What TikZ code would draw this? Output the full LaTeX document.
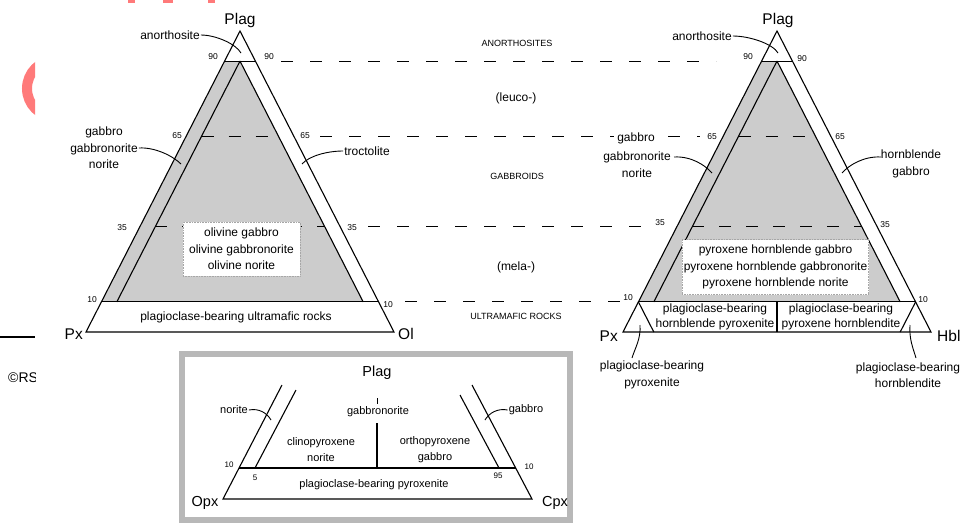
\documentclass[tikz,border=0pt]{standalone}
\usepackage{fontspec}
\setmainfont{Liberation Sans}
\usetikzlibrary{calc}
\definecolor{stamp}{RGB}{255,122,122}
\tikzset{
  edge/.style={line width=1.1pt},
  guide/.style={line width=1.1pt, dash pattern=on 12pt off 17pt},
  inguide/.style={line width=1.1pt, dash pattern=on 12pt off 15pt},
  leader/.style={line width=0.9pt},
  shade/.style={fill=black!20},
  lbl/.style={font=\fontsize{12}{16.5}\selectfont, align=center, inner sep=1pt},
  smlbl/.style={font=\fontsize{11}{16}\selectfont, align=center, inner sep=1pt},
  num/.style={font=\fontsize{8.5}{9}\selectfont, inner sep=0pt},
  corner/.style={font=\fontsize{15.5}{16}\selectfont, inner sep=0pt},
  caps/.style={font=\fontsize{9}{10}\selectfont, inner sep=1pt},
  fieldbox/.style={lbl, fill=white, draw=black!35, densely dotted, line width=0.6pt},
}
% barycentric construction points of a Plag triangle (apex A, base L--R)
\newcommand\mktern[1]{%
  \foreach \tp/\tn in {0.9/90,0.65/65,0.35/35,0.1/10}{%
    \pgfmathsetmacro\qa{1-\tp}%
    \pgfmathsetmacro\qb{0.95-\tp}%
    \coordinate (#1-l\tn) at ($\tp*(#1-A)+\qa*(#1-L)$);
    \coordinate (#1-r\tn) at ($\tp*(#1-A)+\qa*(#1-R)$);
    \coordinate (#1-il\tn) at ($\tp*(#1-A)+\qb*(#1-L)+0.05*(#1-R)$);
    \coordinate (#1-ir\tn) at ($\tp*(#1-A)+0.05*(#1-L)+\qb*(#1-R)$);
  }}
\begin{document}
\begin{tikzpicture}[x=1pt,y=-1pt]
\useasboundingbox (0,0) rectangle (961,525);

% fragments at the left margin
\begin{scope}
  \clip (0,0) rectangle (35,525);
  \draw[stamp, line width=10pt] (55.5,88.5) circle[radius=28.5];
  \node[font=\fontsize{14}{15}\selectfont, anchor=west, inner sep=0pt] (copy) at (8,378) {©RS};
\end{scope}
\coordinate (rule0) at (0,337);
\coordinate (rule1) at (35,337);
\draw[line width=1.3pt] (rule0) -- (rule1);
\fill[stamp] (128,0) rectangle (135,2.5);
\fill[stamp] (163,0) rectangle (173,2.5);
\fill[stamp] (208,0) rectangle (215,2.5);

% ---------- Plag - Px - Ol ----------
\coordinate (L-A) at (240,31);
\coordinate (L-L) at (86,332);
\coordinate (L-R) at (394,332);
\mktern{L}
\fill[shade] (L-l90) -- (L-il90) -- (L-ir10) -- (L-l10) -- cycle;
\draw[edge] (L-A) -- (L-L) -- (L-R) -- cycle;
\draw[edge] (L-l90) -- (L-r90);
\draw[edge] (L-l10) -- (L-r10);
\draw[edge] (L-il90) -- (L-il10);
\draw[edge] (L-ir90) -- (L-ir10);
\draw[inguide] (L-il65) -- (L-ir65);
\draw[inguide] (L-il35) -- (L-ir35);
\node[fieldbox, minimum width=117pt, minimum height=54pt] (olbox) at (241.5,249)
  {olivine gabbro\\olivine gabbronorite\\olivine norite};
\node[lbl] (pbur) at (236,317) {plagioclase-bearing ultramafic rocks};

\node[corner] (plagL) at (240,20) {Plag};
\node[corner, anchor=east] (pxL) at (83,334) {Px};
\node[corner, anchor=west] (olL) at (398,334) {Ol};

\node[num] (nL90a) at (213,57) {90};
\node[num] (nL90b) at (269,57) {90};
\node[num] (nL65a) at (177,136) {65};
\node[num] (nL65b) at (305,136) {65};
\node[num] (nL35a) at (122,228) {35};
\node[num] (nL35b) at (352,228) {35};
\node[num] (nL10a) at (92,300) {10};
\node[num] (nL10b) at (388,305) {10};

\node[lbl] (anoL) at (170,35) {anorthosite};
\coordinate (anoLend) at (241,53);
\draw[leader] (anoL.east) .. controls +(15,0) and +(-5,-9) .. (anoLend);
\node[lbl] (gabL) at (104,148) {gabbro\\gabbronorite\\norite};
\coordinate (gabLend) at (181,164);
\draw[leader] (gabL.east) .. controls +(16,-1) and +(-8,-8) .. (gabLend);
\node[lbl] (troL) at (367,151) {troctolite};
\coordinate (troLend) at (302,164);
\draw[leader] (troL.west) .. controls +(-16,0) and +(7,-8) .. (troLend);

% ---------- dashed links between the triangles ----------
\coordinate (g90a) at (281,61.1);   \coordinate (g90b) at (716,61.1);
\coordinate (g65a) at (320,136.35); \coordinate (g65b) at (700,136.35);
\coordinate (g35a) at (368,226.65); \coordinate (g35b) at (641,226.65);
\coordinate (g10a) at (405,301.9);  \coordinate (g10b) at (620,301.9);
\draw[guide] (g90a) -- (g90b);
\draw[guide] (g65a) -- (g65b);
\draw[guide] (g35a) -- (g35b);
\draw[guide] (g10a) -- (g10b);

\node[caps] (anos) at (517,43) {ANORTHOSITES};
\node[lbl] (leuco) at (516,98) {(leuco-)};
\node[caps] (gabs) at (517,176) {GABBROIDS};
\node[lbl] (mela) at (516,267) {(mela-)};
\node[caps] (ultra) at (516,316) {ULTRAMAFIC ROCKS};

% ---------- Plag - Px - Hbl ----------
\coordinate (R-A) at (777,31);
\coordinate (R-L) at (623,332);
\coordinate (R-R) at (931,332);
\mktern{R}
\coordinate (R-bl) at ($0.9*(R-L)+0.1*(R-R)$);
\coordinate (R-br) at ($0.1*(R-L)+0.9*(R-R)$);
\coordinate (R-bm) at ($0.5*(R-L)+0.5*(R-R)$);
\coordinate (R-m10) at ($0.1*(R-A)+0.45*(R-L)+0.45*(R-R)$);
\fill[shade] (R-l90) -- (R-il90) -- (R-ir10) -- (R-l10) -- cycle;
\draw[edge] (R-A) -- (R-L) -- (R-R) -- cycle;
\draw[edge] (R-l90) -- (R-r90);
\draw[edge] (R-l10) -- (R-r10);
\draw[edge] (R-il90) -- (R-il10);
\draw[edge] (R-ir90) -- (R-ir10);
\draw[edge] (R-m10) -- (R-bm);
\draw[edge] (R-l10) -- (R-bl);
\draw[edge] (R-r10) -- (R-br);
\draw[inguide] (R-il65) -- (R-ir65);
\draw[inguide] (R-il35) -- (R-ir35);
\node[fieldbox, inner xsep=1.5pt, minimum height=55pt] (hbbox) at (775.5,267)
  {pyroxene hornblende gabbro\\pyroxene hornblende gabbronorite\\pyroxene hornblende norite};
\node[lbl, font=\fontsize{12}{15.5}\selectfont] (pbhp) at (715,317) {plagioclase-bearing\\hornblende pyroxenite};
\node[lbl, font=\fontsize{12}{15.5}\selectfont] (pbph) at (841,317) {plagioclase-bearing\\pyroxene hornblendite};

\node[corner] (plagR) at (778,20) {Plag};
\node[corner, anchor=east] (pxR) at (618,336) {Px};
\node[corner, anchor=west] (hblR) at (937,336) {Hbl};

\node[num] (nR90a) at (748,57) {90};
\node[num] (nR90b) at (802,59) {90};
\node[num] (nR65a) at (712,137) {65};
\node[num] (nR65b) at (840,137) {65};
\node[num] (nR35a) at (660,223) {35};
\node[num] (nR35b) at (885,225) {35};
\node[num] (nR10a) at (628,298) {10};
\node[num] (nR10b) at (923,300) {10};

\node[lbl] (anoR) at (702,36) {anorthosite};
\coordinate (anoRend) at (778,53);
\draw[leader] (anoR.east) .. controls +(17,0) and +(-5,-9) .. (anoRend);
\node[lbl, fill=white, inner xsep=3pt] (gabR) at (636,138) {gabbro};
\node[lbl] (gnR) at (637,164.5) {gabbronorite\\norite};
\coordinate (gnRstart) at (674,157);
\coordinate (gnRend) at (712,173);
\draw[leader] (gnRstart) .. controls +(17,-1) and +(-7,-8) .. (gnRend);
\node[lbl] (hgR) at (911,164) {hornblende\\gabbro};
\coordinate (hgRstart) at (881,157);
\coordinate (hgRend) at (842,173);
\draw[leader] (hgRstart) .. controls +(-17,-1) and +(7,-8) .. (hgRend);

\node[lbl] (pbpx) at (652,375) {plagioclase-bearing\\pyroxenite};
\coordinate (pbpxtop) at (640,325);
\coordinate (pbpxend) at (632,358);
\draw[leader] (pbpxtop) .. controls +(1,14) and +(3,-10) .. (pbpxend);
\node[lbl] (pbhb) at (908,375) {plagioclase-bearing\\hornblendite};
\coordinate (pbhbtop) at (910,325);
\coordinate (pbhbend) at (916,358);
\draw[leader] (pbhbtop) .. controls +(-1,14) and +(-3,-10) .. (pbhbend);

% ---------- Plag - Opx - Cpx (inset) ----------
\draw[line width=6pt, draw=black!28] (182,354) rectangle (570,520);
\coordinate (I-O) at (223,499);
\coordinate (I-C) at (532,499);
\coordinate (I-lt) at (282,385);
\coordinate (I-rt) at (472,385);
\coordinate (I-l10) at (238.5,468);
\coordinate (I-r10) at (516,468);
\coordinate (I-ilt) at (296,390);
\coordinate (I-il10) at (255,468);
\coordinate (I-irt) at (460,395);
\coordinate (I-ir10) at (499,468);
\coordinate (I-mt) at (377,423);
\coordinate (I-m10) at (377,468);
\coordinate (I-tick0) at (377,398);
\coordinate (I-tick1) at (377,404);
\draw[edge] (I-lt) -- (I-O) -- (I-C) -- (I-rt);
\draw[edge] (I-l10) -- (I-r10);
\draw[edge] (I-ilt) -- (I-il10);
\draw[edge] (I-irt) -- (I-ir10);
\draw[edge] (I-mt) -- (I-m10);
\draw[line width=0.8pt] (I-tick0) -- (I-tick1);

\node[font=\fontsize{14.5}{15}\selectfont, inner sep=0pt] (plagI) at (377,373) {Plag};
\node[smlbl] (gnI) at (378,412) {gabbronorite};
\node[smlbl] (cnI) at (321,450) {clinopyroxene\\norite};
\node[smlbl] (ogI) at (435,450) {orthopyroxene\\gabbro};
\node[smlbl] (pbpI) at (374,485) {plagioclase-bearing pyroxenite};
\node[smlbl] (norI) at (234,410) {norite};
\coordinate (norIend) at (271,420);
\draw[leader] (norI.east) .. controls +(10,-2) and +(-4,-7) .. (norIend);
\node[smlbl] (gabI) at (526,410) {gabbro};
\coordinate (gabIend) at (485,420);
\draw[leader] (gabI.west) .. controls +(-10,-2) and +(4,-7) .. (gabIend);
\node[num, font=\fontsize{8}{9}\selectfont] (nI10a) at (229,465) {10};
\node[num, font=\fontsize{8}{9}\selectfont] (nI5) at (255,478) {5};
\node[num, font=\fontsize{8}{9}\selectfont] (nI95) at (498,476) {95};
\node[num, font=\fontsize{8}{9}\selectfont] (nI10b) at (529,467) {10};
\node[font=\fontsize{14.5}{15}\selectfont, inner sep=0pt] (opxI) at (205,503) {Opx};
\node[font=\fontsize{14.5}{15}\selectfont, inner sep=0pt] (cpxI) at (555,503) {Cpx};
\end{tikzpicture}
\end{document}
